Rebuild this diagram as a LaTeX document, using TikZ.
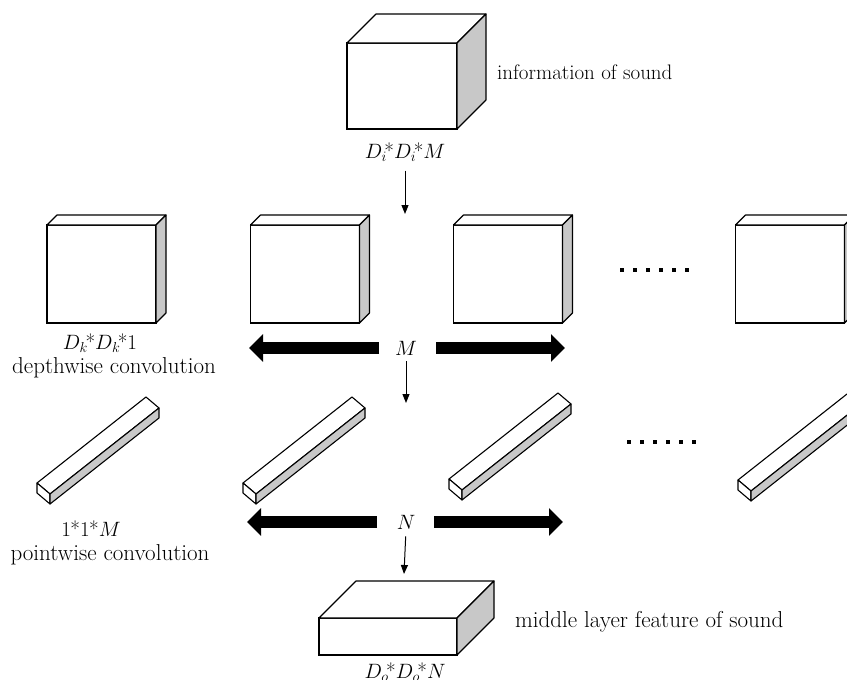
\documentclass[tikz,border=0pt]{standalone}
\usetikzlibrary{arrows.meta,calc}
\definecolor{sidegray}{HTML}{C8C8C8}
\tikzset{
  face/.style={draw, line width=1.1pt, fill=white, inner sep=0pt, outer sep=0pt},
  edge/.style={line width=1.1pt, line join=round},
  lbl/.style={font=\fontsize{21}{24}\selectfont, inner sep=0pt},
  txt/.style={font=\fontsize{23}{27}\selectfont, inner sep=0pt},
  thinarrow/.style={line width=1pt, -{Triangle[width=7pt,length=9pt]}},
  fatarrow/.style={line width=12pt, -{Triangle[width=27pt,length=14pt]}},
  dot/.style={fill=black, minimum size=4pt, inner sep=0pt}
}
% top and right faces of a box whose front face is node #1, depth offset (#2,#3)
\newcommand\boxfaces[3]{%
  \filldraw[edge, fill=white] (#1.north west) -- ++(#2,#3) -- ($(#1.north east)+(#2,#3)$) -- (#1.north east) -- cycle;
  \filldraw[edge, fill=sidegray] (#1.north east) -- ++(#2,#3) -- ($(#1.south east)+(#2,#3)$) -- (#1.south east) -- cycle;
}
% a long slanted bar (1*1*M kernel) with its near end corner at (#1,#2)
\newcommand\drawbar[2]{%
  \filldraw[edge, fill=white] (#1,#2) -- ++(109,-86) -- ++(13,11) -- ++(-109,86) -- cycle;
  \filldraw[edge, fill=white] (#1,#2) -- ++(13,11) -- ++(0,10) -- ++(-13,-11) -- cycle;
  \filldraw[edge, fill=sidegray] (#1+13,#2+11) -- ++(109,-86) -- ++(0,10) -- ++(-109,86) -- cycle;
}
% subscripted symbol followed by an asterisk set close to the subscript
\newcommand\dimsym[2]{$#1_{#2}$\kern-2.5pt*}
\newcommand\kast{\kern-0.5pt*}
\begin{document}
\begin{tikzpicture}[x=1pt, y=-1pt]
  \useasboundingbox (0,0) rectangle (847,680);
  \clip (0,0) rectangle (847,680);

  % input feature map
  \node[face, minimum width=110pt, minimum height=86pt] (in) at (402,86) {};
  \boxfaces{in}{29}{-29}
  \node[txt, font=\fontsize{21}{25}\selectfont, anchor=west] (inTxt) at (497,72) {information of sound};
  \node[lbl] (inDim) at (405,152) {\dimsym{D}{i}\dimsym{D}{i}$M$};

  % depthwise kernels
  \foreach \n/\cx in {k1/101.5, k2/305, k3/508, k4/790} {
    \node[face, minimum width=109pt, minimum height=98pt] (\n) at (\cx,274) {};
    \boxfaces{\n}{10}{-10}
  }
  \node[lbl] (kDim) at (100,343) {\dimsym{D}{k}\dimsym{D}{k}1};
  \node[txt] (kTxt) at (114,368) {depthwise convolution};
  \foreach \i in {0,...,5} \node[dot] at (622+13*\i,270) {};

  % pointwise kernels
  \drawbar{37}{483}
  \drawbar{243}{483}
  \drawbar{449}{479}
  \drawbar{738}{480}
  \node[lbl] (pDim) at (91,529) {1\kast1\kast$M$};
  \node[txt] (pTxt) at (110,555) {pointwise convolution};
  \foreach \i in {0,...,5} \node[dot] at (629+13*\i,442) {};

  % output feature map
  \node[face, minimum width=138pt, minimum height=37pt] (out) at (388,636.5) {};
  \boxfaces{out}{37}{-37}
  \node[txt, anchor=west] (outTxt) at (515,622) {middle layer feature of sound};
  \node[lbl] (outDim) at (405,672) {\dimsym{D}{o}\dimsym{D}{o}$N$};

  % channel counts and flow
  \node[lbl] (M) at (406,348) {$M$};
  \node[lbl] (N) at (406,522) {$N$};
  \coordinate (mL) at (249,348);
  \coordinate (mR) at (565,348);
  \coordinate (nL) at (247,522);
  \coordinate (nR) at (563,522);
  \draw[fatarrow] ($(M)+(-27,0)$) -- (mL);
  \draw[fatarrow] ($(M)+(30,0)$) -- (mR);
  \draw[fatarrow] ($(N)+(-29,0)$) -- (nL);
  \draw[fatarrow] ($(N)+(28,0)$) -- (nR);

  \coordinate (a1) at (405,214);
  \coordinate (a2) at (406,403);
  \coordinate (a3) at (404,574);
  \draw[thinarrow, shorten <=9pt] (inDim.south) -- (a1);
  \draw[thinarrow, shorten <=6pt] (M.south) -- (a2);
  \draw[thinarrow, shorten <=7pt] (N.south) -- (a3);
\end{tikzpicture}
\end{document}
